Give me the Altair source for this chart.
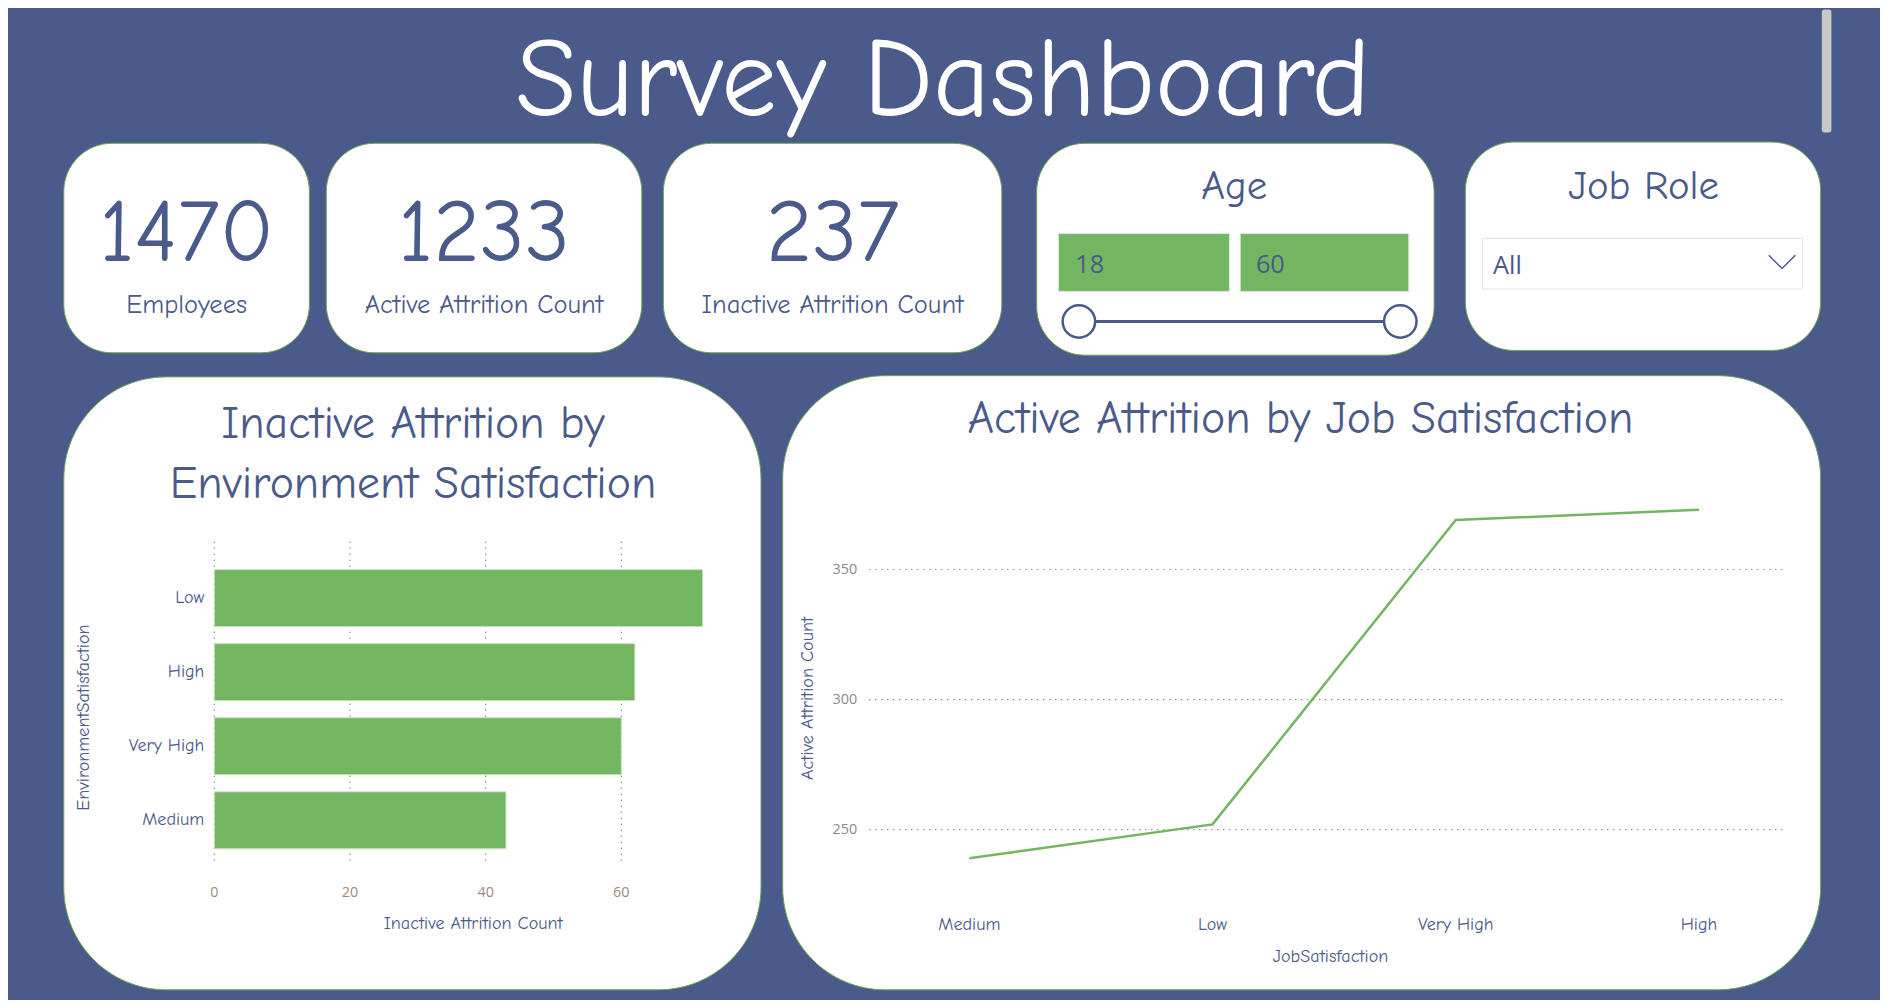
import altair as alt

# data
env_levels = ["Low", "High", "Very High", "Medium"]
inactive_counts = [72, 62, 60, 43]
bar_ticks = [0, 20, 40, 60]

job_levels = ["Medium", "Low", "Very High", "High"]
active_counts = [239, 252, 369, 373]
line_ticks = [250, 300, 350]

kpi_values = ["1470", "1233", "237"]
kpi_labels = ["Employees", "Active Attrition Count", "Inactive Attrition Count"]
age_range = ["18", "60"]

BG = "#4a5a8a"
BLUE = "#4a5a8a"
GREEN = "#73b661"
EDGE = "#6aa84f"
FONT = "Comic Sans MS, Comic Neue, Lato"
K = 1888 / 1568


def P(v):
    return round(v * K - 8, 1)


def F(v):
    return round(v * K, 1)


one = alt.Data(values=[{}])
layers = []


def box(x0, y0, x1, y1, r, fill="white", stroke=EDGE, sw=1):
    layers.append(
        alt.Chart(one).mark_rect(cornerRadius=F(r), fill=fill, stroke=stroke, strokeWidth=sw).encode(
            x=alt.value(P(x0)), x2=alt.value(P(x1)), y=alt.value(P(y0)), y2=alt.value(P(y1))
        )
    )


def label(t, x, y, size, align="center", color=BLUE, angle=0, font=FONT):
    layers.append(
        alt.Chart(one).mark_text(
            text=t, fontSize=F(size), align=align, baseline="middle", color=color, font=font, angle=angle
        ).encode(x=alt.value(P(x)), y=alt.value(P(y)))
    )


def rule(x0, y0, x1, y1, color=BLUE, sw=2):
    layers.append(
        alt.Chart(one).mark_rule(color=color, strokeWidth=sw).encode(
            x=alt.value(P(x0)), x2=alt.value(P(x1)), y=alt.value(P(y0)), y2=alt.value(P(y1))
        )
    )


# top strip and scrollbar
box(700, 0, 737, 2, 0, fill="#d9302c", stroke=None)
box(737, 0, 897, 2, 0, fill="white", stroke=None)
box(1513, 8, 1521, 110, 2, fill="#c8c8c8", stroke=None)

label("Survey Dashboard", 783, 68, 92, color="white")

# KPI cards
cards = [(53, 257), (271, 533), (551, 832)]
for (x0, x1), v, t in zip(cards, kpi_values, kpi_labels):
    box(x0, 119, x1, 293, 40)
    cx = (x0 + x1) / 2
    label(v, cx, 194, 74)
    label(t, cx, 253, 22)

# Age slicer
box(861, 119, 1191, 295, 40)
label("Age", 1025, 155, 34)
box(879, 194, 1021, 242, 0, fill=GREEN, stroke="#dfe8dc")
box(1030, 194, 1170, 242, 0, fill=GREEN, stroke="#dfe8dc")
label(age_range[0], 893, 220, 21, align="left", font="Segoe UI, Open Sans")
label(age_range[1], 1043, 220, 21, align="left", font="Segoe UI, Open Sans")
rule(896, 267, 1163, 267, sw=3)
for cx in (896, 1163):
    layers.append(
        alt.Chart(one).mark_point(shape="circle", filled=True, fill="white", stroke=BLUE, strokeWidth=2.5,
                                  size=F(27) ** 2, opacity=1).encode(x=alt.value(P(cx)), y=alt.value(P(267)))
    )

# Job role slicer
box(1217, 118, 1512, 291, 40)
label("Job Role", 1365, 155, 34)
box(1231, 198, 1497, 240, 0, fill="white", stroke="#e3e3e3")
label("All", 1240, 221, 21, align="left", font="Segoe UI, Open Sans")
rule(1469, 212, 1480, 223, sw=1.5)
rule(1480, 223, 1491, 212, sw=1.5)

# big cards
box(53, 313, 632, 822, 85)
box(650, 312, 1512, 822, 85)
label("Inactive Attrition by", 343, 352, 38)
label("Environment Satisfaction", 343, 402, 38)
label("Active Attrition by Job Satisfaction", 1080, 348, 38)

# bar chart (environment)
bx = alt.Scale(domain=[0, 60], range=[P(178), P(516)])
by = alt.Scale(domain=env_levels, range=[P(466), P(712)], paddingInner=0.23, paddingOuter=0.115)
tick_df = alt.Data(values=[{"v": v} for v in bar_ticks])
layers.append(
    alt.Chart(tick_df).mark_rule(color="#666", strokeDash=[1, 5], strokeWidth=1.2).encode(
        x=alt.X("v:Q", scale=bx, axis=None), y=alt.value(P(450)), y2=alt.value(P(716))
    )
)
env_df = alt.Data(values=[{"env": e, "count": c} for e, c in zip(env_levels, inactive_counts)])
layers.append(
    alt.Chart(env_df).mark_bar(color=GREEN, stroke="#cfe3c8", strokeWidth=1).encode(
        x=alt.X("count:Q", scale=bx, axis=None),
        x2=alt.datum(0),
        y=alt.Y("env:N", scale=by, axis=None, sort=env_levels),
    )
)
layers.append(
    alt.Chart(env_df).mark_text(align="right", baseline="middle", fontSize=F(15), color=BLUE, font=FONT, dx=-10).encode(
        x=alt.value(P(178)), y=alt.Y("env:N", scale=by, axis=None, sort=env_levels), text="env:N"
    )
)
layers.append(
    alt.Chart(tick_df).mark_text(baseline="middle", fontSize=F(12), color="#9a8a80", font="Segoe UI, Open Sans").encode(
        x=alt.X("v:Q", scale=bx, axis=None), y=alt.value(P(742)), text="v:Q"
    )
)
label("Inactive Attrition Count", 393, 767, 15)
label("EnvironmentSatisfaction", 70, 596, 15, angle=270)

# line chart (job satisfaction)
lx = alt.Scale(domain=job_levels, range=[P(805), P(1411)], padding=0)
ly = alt.Scale(domain=[250, 350], range=[P(689), P(473)], zero=False)
lt_df = alt.Data(values=[{"v": v} for v in line_ticks])
layers.append(
    alt.Chart(lt_df).mark_rule(color="#666", strokeDash=[1, 5], strokeWidth=1.2).encode(
        y=alt.Y("v:Q", scale=ly, axis=None), x=alt.value(P(722)), x2=alt.value(P(1482))
    )
)
layers.append(
    alt.Chart(lt_df).mark_text(align="right", baseline="middle", fontSize=F(12), color="#8a8a8a",
                               font="Segoe UI, Open Sans").encode(
        y=alt.Y("v:Q", scale=ly, axis=None), x=alt.value(P(712)), text="v:Q"
    )
)
job_df = alt.Data(values=[{"job": j, "count": c} for j, c in zip(job_levels, active_counts)])
layers.append(
    alt.Chart(job_df).mark_line(color=GREEN, strokeWidth=2.5).encode(
        x=alt.X("job:N", scale=lx, axis=None, sort=job_levels),
        y=alt.Y("count:Q", scale=ly, axis=None),
    )
)
layers.append(
    alt.Chart(job_df).mark_text(baseline="middle", fontSize=F(15), color=BLUE, font=FONT).encode(
        x=alt.X("job:N", scale=lx, axis=None, sort=job_levels), y=alt.value(P(768)), text="job:N"
    )
)
label("JobSatisfaction", 1105, 795, 15)
label("Active Attrition Count", 671, 580, 15, angle=270)

chart = (
    alt.layer(*layers)
    .resolve_scale(x="independent", y="independent")
    .properties(width=1872, height=992, padding=0, autosize=alt.AutoSizeParams(type="none"), background=BG)
    .configure_view(stroke=None)
)
chart.save("out.html", embed_options={"renderer": "svg", "actions": False})
